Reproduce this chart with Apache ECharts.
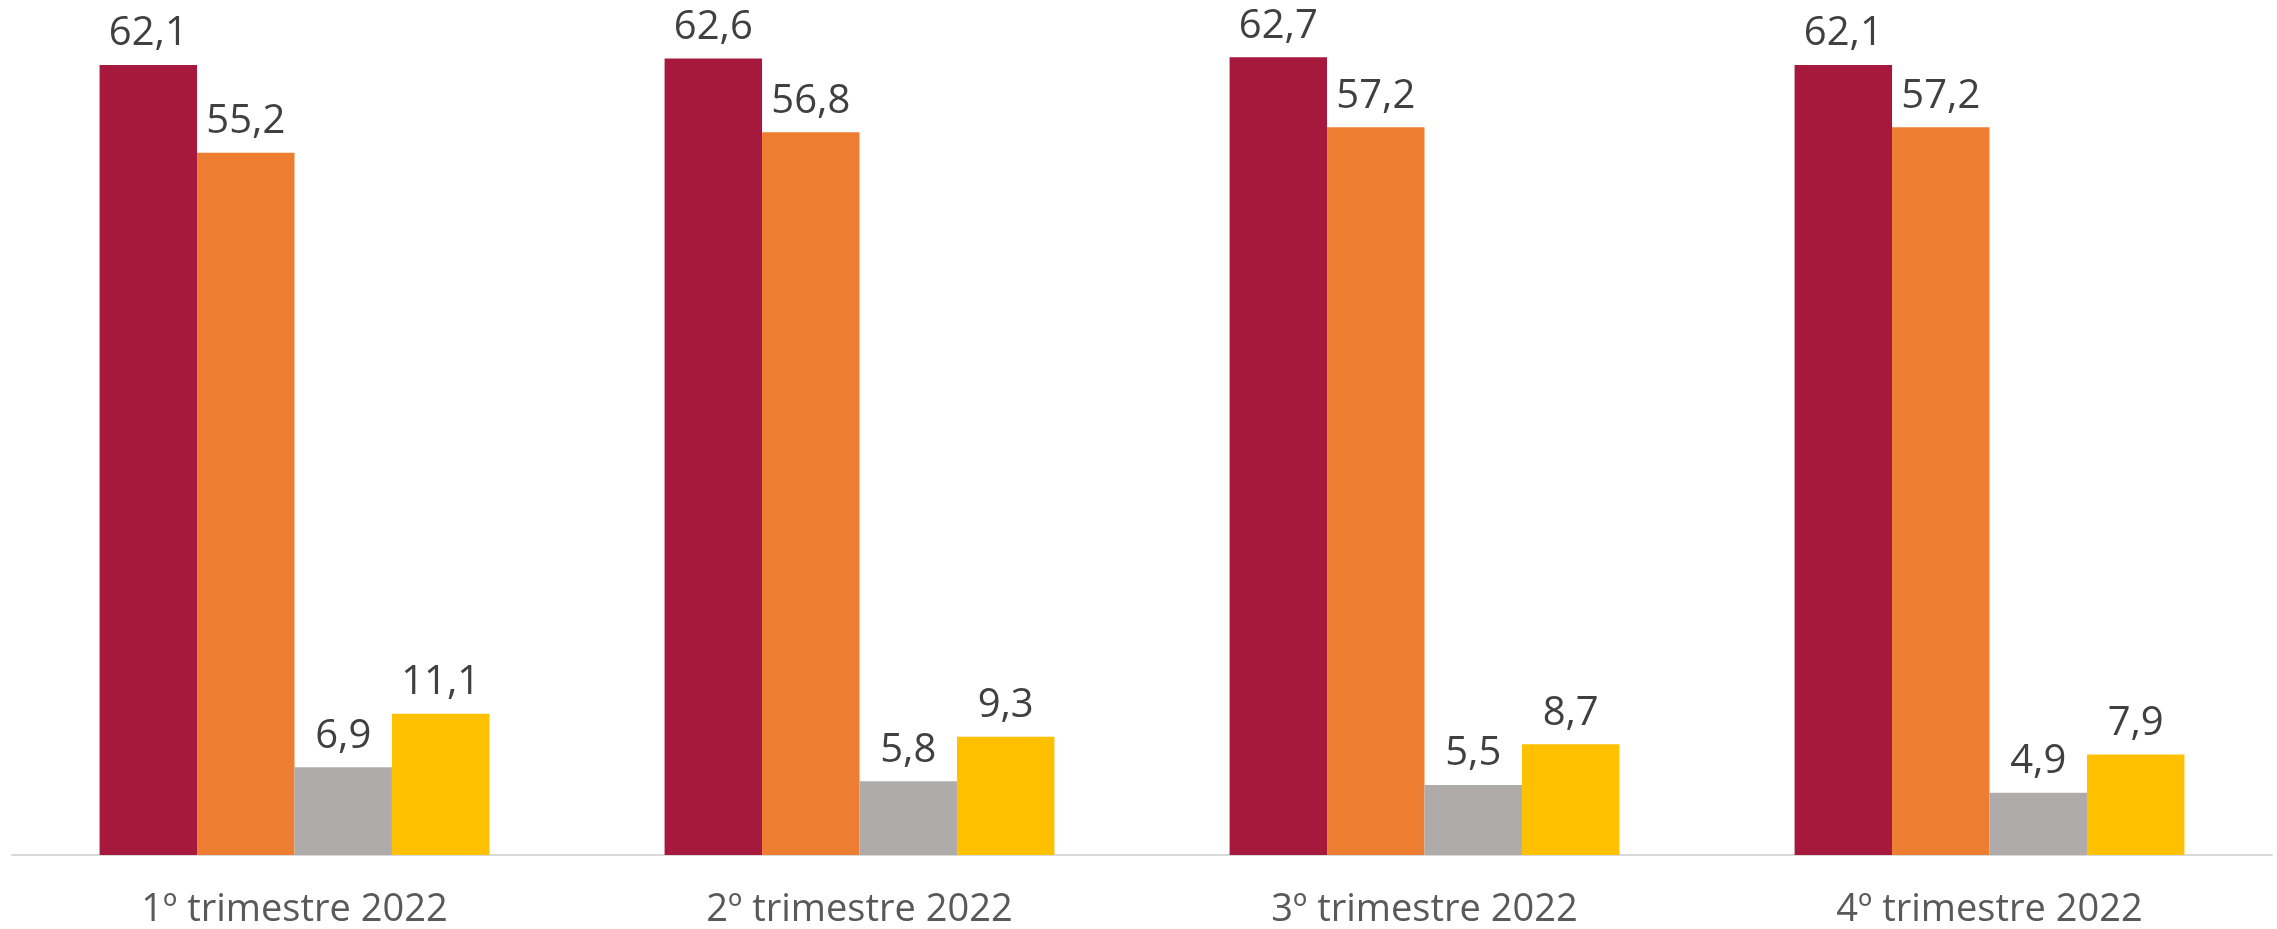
<!DOCTYPE html>
<html><head><meta charset="utf-8">
<script src="https://cdn.jsdelivr.net/npm/echarts@6/dist/echarts.min.js"></script>
<style>html,body{margin:0;padding:0;background:#fff}#c{width:2277px;height:929px}</style>
</head><body><div id="c"></div>
<script>
const categories = ['1º trimestre 2022', '2º trimestre 2022', '3º trimestre 2022', '4º trimestre 2022'];
const serieA = [62.1, 62.6, 62.7, 62.1];
const serieB = [55.2, 56.8, 57.2, 57.2];
const serieC = [6.9, 5.8, 5.5, 4.9];
const serieD = [11.1, 9.3, 8.7, 7.9];
const colors = ['#A6193C', '#ED7D31', '#AFABAB', '#FFC000'];

const chart = echarts.init(document.getElementById('c'));
const mk = (name, data, color) => ({
  name, type: 'bar', data, barGap: '0%', barCategoryGap: '31%',
  itemStyle: { color },
  label: { show: true, position: 'top', distance: 11, color: '#404040', fontSize: 40,
    fontFamily: 'Open Sans', formatter: p => String(p.value.toFixed(1)).replace('.', ',') }
});
chart.setOption({
  animation: false,
  grid: { left: 12, right: 5, top: 0, bottom: 74 },
  xAxis: { type: 'category', data: categories,
    axisLine: { lineStyle: { color: '#D9D9D9', width: 2 } }, axisTick: { show: false },
    axisLabel: { color: '#595959', fontSize: 38, fontFamily: 'Open Sans', margin: 36 } },
  yAxis: { type: 'value', min: 0, max: 67.2, show: false, splitLine: { show: false } },
  series: [mk('A', serieA, colors[0]), mk('B', serieB, colors[1]), mk('C', serieC, colors[2]), mk('D', serieD, colors[3])]
});
</script></body></html>
